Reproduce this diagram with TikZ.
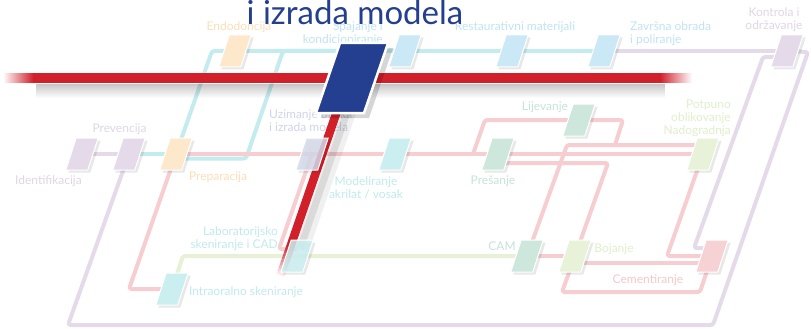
\documentclass[tikz,border=0pt]{standalone}
\usepackage{fontspec}
\setmainfont{Lato}
\usetikzlibrary{shapes.geometric, calc, fadings, shadows}
\definecolor{rlcyan}{RGB}{196,236,238}
\definecolor{rlpink}{RGB}{246,206,209}
\definecolor{rlpurp}{RGB}{228,218,233}
\definecolor{rllime}{RGB}{230,241,214}
\definecolor{stpurp}{RGB}{228,218,233}
\definecolor{storng}{RGB}{253,232,204}
\definecolor{stblue}{RGB}{203,232,246}
\definecolor{stslate}{RGB}{213,217,234}
\definecolor{stcyan}{RGB}{203,239,241}
\definecolor{stgreen}{RGB}{205,231,221}
\definecolor{stlime}{RGB}{231,242,216}
\definecolor{stpink}{RGB}{246,210,213}
\definecolor{lbpurp}{RGB}{224,213,230}
\definecolor{lborng}{RGB}{251,222,186}
\definecolor{lbblue}{RGB}{192,227,243}
\definecolor{lbslate}{RGB}{208,212,231}
\definecolor{lbcyan}{RGB}{192,234,237}
\definecolor{lbgreen}{RGB}{198,227,214}
\definecolor{lblime}{RGB}{224,238,203}
\definecolor{lbpink}{RGB}{244,200,204}
\definecolor{barred}{RGB}{210,32,42}
\definecolor{boxblue}{RGB}{36,63,143}
\pgfdeclarelayer{rails}
\pgfdeclarelayer{under}
\pgfdeclarelayer{over}
\pgfsetlayers{rails,under,main,over}
\newcommand{\stnbody}{\rule{11.6pt}{0pt}\rule{0pt}{32pt}}
\newcommand{\bigbody}{\rule{24pt}{0pt}\rule{0pt}{70pt}}

\begin{document}
\begin{tikzpicture}[x=1pt, y=-1pt,
    stn/.style={trapezium, trapezium left angle=72, trapezium right angle=108,
      inner sep=0pt, draw=white, line width=1pt,
      drop shadow={shadow xshift=2.5pt, shadow yshift=-2.5pt, fill=black, opacity=0.09}},
    bigbox/.style={trapezium, trapezium left angle=71, trapezium right angle=109,
      inner sep=0pt, fill=boxblue, draw=white, line width=2.5pt,
      drop shadow={shadow xshift=5pt, shadow yshift=-5pt, fill=black, opacity=0.16}},
    lbl/.style={font=\fontsize{12}{13}\selectfont, inner sep=0pt, align=center},
    rail/.style={line width=4pt, rounded corners=2.5pt, line join=round},
    reddiag/.style={line width=8.5pt, barred}
  ]
  \useasboundingbox (0,0) rectangle (811,329);

  \node[stn, fill=stpurp] (idnt) at (82,154) {\stnbody};
  \node[stn, fill=stpurp] (prev) at (129,154) {\stnbody};
  \node[stn, fill=storng] (prep) at (176,154) {\stnbody};
  \node[stn, fill=storng] (endo) at (235,51) {\stnbody};
  \node[stn, fill=stblue] (spaj) at (405,51) {\stnbody};
  \node[stn, fill=stblue] (rest) at (512,51) {\stnbody};
  \node[stn, fill=stblue] (zavr) at (604,51) {\stnbody};
  \node[stn, fill=stpurp] (kontr) at (787,51) {\stnbody};
  \node[stn, fill=stslate, fill opacity=0.85] (uzim) at (312,154) {\stnbody};
  \node[stn, fill=stcyan] (model) at (395,154) {\stnbody};
  \node[stn, fill=stgreen] (presa) at (498,154) {\stnbody};
  \node[stn, fill=stgreen] (lijev) at (579,120) {\stnbody};
  \node[stn, fill=stlime] (potp) at (703,154) {\stnbody};
  \node[stn, fill=stcyan, fill opacity=0.85] (labsk) at (297,256) {\stnbody};
  \node[stn, fill=stcyan] (intra) at (172,289) {\stnbody};
  \node[stn, fill=stgreen] (cam) at (527,256) {\stnbody};
  \node[stn, fill=stlime] (boj) at (575,256) {\stnbody};
  \node[stn, fill=stpink] (cem) at (712,256) {\stnbody};

  \coordinate (jlij) at (473,154);
  \coordinate (jpot) at (615,145);

  \begin{pgfonlayer}{rails}
    \draw[rail, rlpurp] (idnt.center) -- (prev.center);
    \draw[rail, rlpurp] (prev.center) -- (68,325) -- (713,325) -- (808,52) -- (kontr.center);
    \draw[rail, rlpurp] (zavr.center) -- (kontr.center);
    \draw[rail, rlpurp] ($(kontr.center)+(0,6)$) -- (763,57) -- (694,248) -- ($(cem.center)+(0,-8)$);
    \draw[rail, rlcyan] (prev.center) -- (prep.center);
    \draw[rail, rlcyan] (prep.center) -- (212,51) -- (endo.center) -- (spaj.center) -- (rest.center) -- (zavr.center);
    \draw[rail, rlcyan] ($(prep.center)+(0,4.5)$) -- (246,158.5) -- (283,51) -- (spaj.center);
    \draw[rail, rlpink] (prep.center) -- (uzim.center) -- (model.center) -- (presa.center) -- (potp.center);
    \draw[rail, rlpink] (jlij) -- (485,120) -- (lijev.center) -- (623,120) -- (jpot);
    \draw[rail, rlpink] (cam.center) -- (567,145) -- ($(potp.center)+(0,-9)$);
    \draw[rail, rlpink] ($(presa.center)+(0,9)$) -- (608,163) -- (boj.center);
    \draw[rail, rlpink] (cam.center) -- (boj.center);
    \draw[rail, rlpink] ($(boj.center)+(0,7)$) -- ($(cem.center)+(0,7)$);
    \draw[rail, rlpink] (boj.center) -- (562,292) -- (700,292) -- (cem.center);
    \draw[rail, rlpink] (potp.center) -- (667,256) -- (cem.center);
    \draw[rail, rlpink] (prep.center) -- (129,289) -- (intra.center);
    \draw[rail, rlpink] (uzim.center) -- (279,249) -- ($(labsk.center)+(0,-7)$);
    \draw[rail, rllime] (intra.center) -- (183,256) -- (labsk.center) -- (cam.center);
  \end{pgfonlayer}

  \begin{pgfonlayer}{under}
    \node[lbl, text=lbpurp] (lidnt) at (48.5,181) {Identifikacija};
    \node[lbl, text=lbpurp] (lprev) at (119.5,129) {Prevencija};
    \node[lbl, text=lborng] (lprep) at (218,177) {Preparacija};
    \node[lbl, text=lborng] (lendo) at (239,27) {Endodoncija};
    \node[lbl, text=lbblue, align=right, anchor=east] (lspaj) at (383,34) {Spajanje i\\kondicioniranje};
    \node[lbl, text=lbblue] (lrest) at (515,27) {Restaurativni materijali};
    \node[lbl, text=lbblue, align=left, anchor=west] (lzavr) at (630,34) {Završna obrada\\i poliranje};
    \node[lbl, text=lbpurp] (lkontr) at (774,20) {Kontrola i\\održavanje};
    \node[lbl, text=lbslate, align=left, anchor=west] (luzim) at (269,121) {Uzimanje otiska\\i izrada modela};
    \node[lbl, text=lbcyan] (lmodel) at (366,187.5) {Modeliranje\\akrilat / vosak};
    \node[lbl, text=lbgreen] (lpresa) at (493,181) {Prešanje};
    \node[lbl, text=lbgreen] (llijev) at (545,107) {Lijevanje};
    \node[lbl, text=lblime, align=right, anchor=east] (lpotp) at (731,118) {Potpuno\\oblikovanje\\Nadogradnja};
    \node[lbl, text=lbcyan, align=right, anchor=east] (llab) at (278,239) {Laboratorijsko\\skeniranje i CAD};
    \node[lbl, text=lbcyan] (lintra) at (246,292) {Intraoralno skeniranje};
    \node[lbl, text=lbgreen] (lcam) at (502,246) {CAM};
    \node[lbl, text=lblime] (lboj) at (614,249) {Bojanje};
    \node[lbl, text=lbpink] (lcem) at (648,280) {Cementiranje};

    \coordinate (rdtop) at (346,85);
    \coordinate (rdmid) at (291,245);
    \coordinate (rdend) at (280.5,275);
    \draw[line width=14pt, black, opacity=0.06] ($(rdtop)+(11,4)$) -- ($(rdmid)+(11,4)$);
    \draw[line width=7pt, black, opacity=0.09] ($(rdtop)+(9,4)$) -- ($(rdmid)+(9,4)$);
    \draw[reddiag] (rdtop) -- (rdmid);
    \foreach \k [evaluate=\k as \op using {1-\k/10}] in {0,...,9}
      \draw[reddiag, opacity=\op] ($(rdmid)!\k/10!(rdend)$) -- ($(rdmid)!{(\k+1)/10}!(rdend)$);
  \end{pgfonlayer}

  \begin{pgfonlayer}{over}
    \foreach \k [evaluate=\k as \op using {0.22*(1-\k/14)}] in {0,...,13}
      \fill[black, opacity=\op] (36,{83.5+\k}) rectangle (665,{84.5+\k});
    \fill[barred] (33,73) rectangle (660,83);
    \fill[barred, path fading=west] (3,73) rectangle (33,83);
    \fill[barred, path fading=east] (660,73) rectangle (692,83);
    \node[bigbox] (blk) at (352,78) {\bigbody};
    \node[anchor=base, inner sep=0pt, text=boxblue, font=\fontsize{33}{36}\selectfont] (ttl) at (355,25) {i izrada modela};
  \end{pgfonlayer}
\end{tikzpicture}
\end{document}
